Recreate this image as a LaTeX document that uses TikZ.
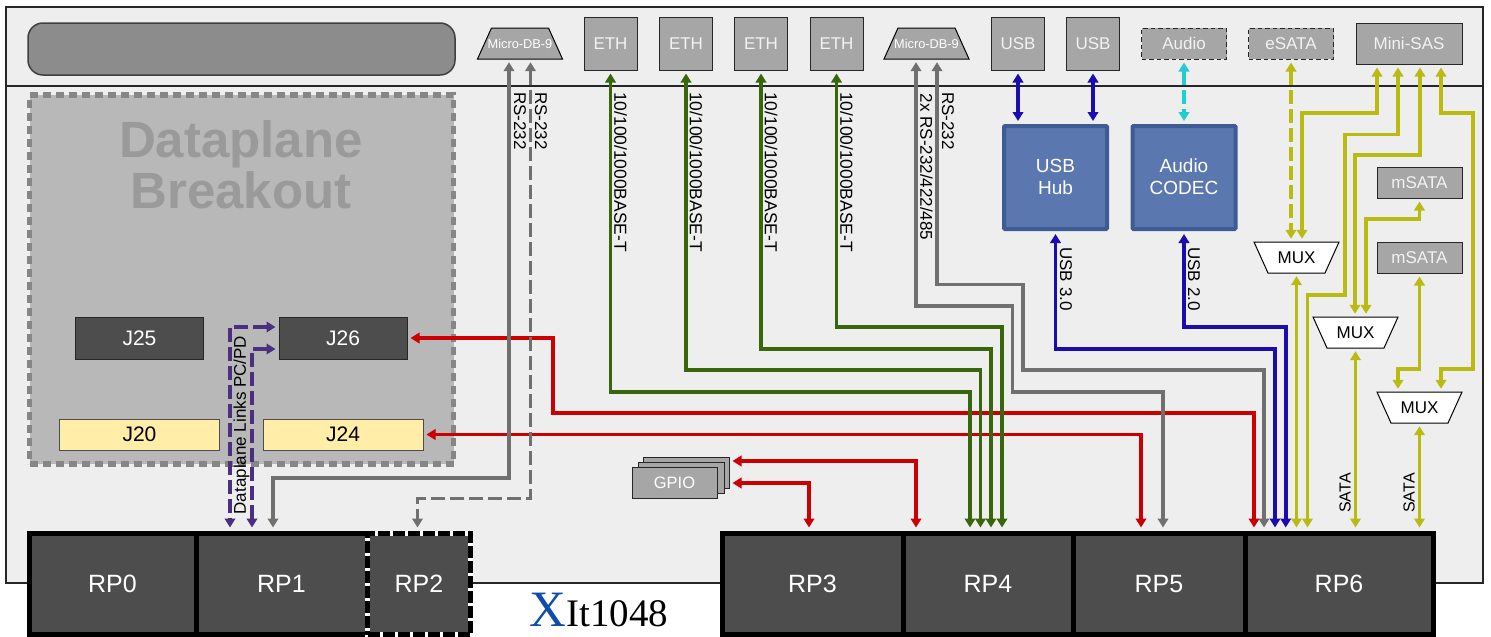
\documentclass[tikz,border=0pt]{standalone}
\usepackage{fontspec}
\setmainfont{Liberation Sans}
\newfontfamily\xfont{Liberation Serif}
\usetikzlibrary{arrows.meta,calc}
\definecolor{panelc}{HTML}{EEEEEE}
\definecolor{slotc}{HTML}{8C8C8C}
\definecolor{breakc}{HTML}{B8B8B8}
\definecolor{breakl}{HTML}{868686}
\definecolor{titlec}{HTML}{9A9A9A}
\definecolor{darkc}{HTML}{4D4D4D}
\definecolor{portc}{HTML}{A6A6A6}
\definecolor{yellowc}{HTML}{FFEDA8}
\definecolor{hubc}{HTML}{5A77B0}
\definecolor{hubl}{HTML}{3D5B94}
\definecolor{cred}{HTML}{CC0000}
\definecolor{cgreen}{HTML}{38660A}
\definecolor{cgray}{HTML}{707070}
\definecolor{cblue}{HTML}{1C0CAF}
\definecolor{cpurple}{HTML}{4B3080}
\definecolor{ccyan}{HTML}{1FCFCF}
\definecolor{colive}{HTML}{BABB12}
\definecolor{xblue}{HTML}{0F4DA8}
\tikzset{
  sized/.style 2 args={minimum width=#1,minimum height=#2,inner sep=0pt},
  fs/.style={font=\fontsize{#1}{#1}\selectfont},
  port/.style={draw=black!85,line width=1pt,fill=portc,text=white!95!black,fs=17},
  dport/.style={port,dash pattern=on 4.5pt off 3pt},
  jack/.style={draw=black!85,line width=1pt,fill=darkc,text=white,fs=21},
  yjack/.style={draw=black!70,line width=1pt,fill=yellowc,text=black,fs=21},
  rpbox/.style={draw=black,line width=5pt,fill=darkc,text=white,fs=25},
  hubbox/.style={draw=hubl,line width=4pt,fill=hubc,text=white,rounded corners=1pt,align=center,font=\fontsize{19}{22}\selectfont},
  trapline/.style={draw=black,line width=1pt,line join=miter},
  conn/.style={line width=3.8pt,shorten <=3pt,shorten >=3pt,{Triangle[width=10.5pt,length=9pt]}-{Triangle[width=10.5pt,length=9pt]}},
  dsh/.style={dash pattern=on 14pt off 5pt},
  vlabel/.style={rotate=-90,text=black,fs=17,inner sep=0pt},
  ulabel/.style={rotate=90,text=black,fs=17,inner sep=0pt}
}
% name, centre, text: connector shape, narrow edge on top
\newcommand{\microbox}[3]{%
  \draw[trapline,fill=portc] ($(#2)+(-42.5,15.5)$) -- ($(#2)+(42.5,15.5)$) -- ($(#2)+(28.5,-15.5)$) -- ($(#2)+(-28.5,-15.5)$) -- cycle;
  \node[sized={85}{31},text=white,fs=12.8] (#1) at (#2) {#3};}
% name, centre, text: multiplexer shape, narrow edge below
\newcommand{\muxshape}[3]{%
  \draw[trapline,fill=white] ($(#2)+(-42.5,-15.5)$) -- ($(#2)+(42.5,-15.5)$) -- ($(#2)+(28.5,15.5)$) -- ($(#2)+(-28.5,15.5)$) -- cycle;
  \node[sized={85}{31},text=black,fs=17] (#1) at (#2) {#3};}
\begin{document}
\begin{tikzpicture}[x=1pt,y=-1pt]
\useasboundingbox (0,0) rectangle (1491,637);
\fill[white] (0,0) rectangle (1491,637);
% panel
\node[draw=black!85,line width=1.6pt,fill=panelc,sized={1477}{576}] (panel) at (744.5,295) {};
\coordinate (divl) at (6,86);
\coordinate (divr) at (1483,86);
\draw[black!85,line width=1.4pt] (divl) -- (divr);
\node[draw=black!75,line width=1.5pt,fill=slotc,rounded corners=15pt,sized={427}{52}] (slot) at (241.5,49) {};
\node[draw=breakl,line width=5.5pt,dash pattern=on 8pt off 5pt,fill=breakc,sized={424}{369}] (breakout) at (241.5,279.5) {};
\node[text=titlec,align=center,inner sep=0pt,font=\fontsize{51}{51}\bfseries\selectfont] (title) at (241,165) {Dataplane\\Breakout};
% jacks
\node[jack,sized={128}{42}] (j25) at (139.5,338) {J25};
\node[jack,sized={128}{42}] (j26) at (343,338) {J26};
\node[yjack,sized={160}{31}] (j20) at (139.5,434.5) {J20};
\node[yjack,sized={160}{31}] (j24) at (343,434.5) {J24};
% front panel
\microbox{m1}{520,43.5}{Micro-DB-9}
\node[port,sized={53}{53}] (eth1) at (610.5,43.5) {ETH};
\node[port,sized={53}{53}] (eth2) at (686,43.5) {ETH};
\node[port,sized={53}{53}] (eth3) at (761,43.5) {ETH};
\node[port,sized={53}{53}] (eth4) at (836.5,43.5) {ETH};
\microbox{m2}{926.5,43.5}{Micro-DB-9}
\node[port,sized={53}{53}] (usb1) at (1018,43.5) {USB};
\node[port,sized={53}{53}] (usb2) at (1093,43.5) {USB};
\node[dport,sized={85}{31}] (audio) at (1184,43.5) {Audio};
\node[dport,sized={85}{31}] (esata) at (1291,43.5) {eSATA};
\node[port,sized={106}{41}] (sas) at (1409,43.5) {Mini-SAS};
\node[port,sized={85}{31}] (msata1) at (1419.5,182.5) {mSATA};
\node[port,sized={85}{31}] (msata2) at (1419.5,257.5) {mSATA};
\node[hubbox,sized={103}{103}] (hub) at (1055.5,177.5) {\raisebox{1.5pt}{USB}\\\raisebox{1.5pt}{Hub}};
\node[hubbox,sized={103}{103}] (codec) at (1184,177.5) {\raisebox{1.5pt}{Audio}\\\raisebox{1.5pt}{CODEC}};
\muxshape{mux1}{1296.5,257.5}{MUX}
\muxshape{mux2}{1355.5,332.5}{MUX}
\muxshape{mux3}{1419.5,407.5}{MUX}
% GPIO
\node[draw=black!85,line width=1pt,fill=portc,sized={86}{31}] (gpioc) at (686,472.5) {};
\node[draw=black!85,line width=1pt,fill=portc,sized={86}{31}] (gpiob) at (681,477.5) {};
\node[draw=black!85,line width=1pt,fill=portc,text=white,fs=16.5,sized={85}{31}] (gpio) at (674.5,482.5) {GPIO};
% RP row
\node[rpbox,sized={167}{101.5}] (rp0) at (112.5,583.75) {RP0};
\node[rpbox,sized={171}{101.5}] (rp1) at (281.5,583.75) {RP1\hspace{3pt}};
\node[rpbox,draw=white,sized={103}{101.5},postaction={draw=black,dash pattern=on 12pt off 3pt}] (rp2) at (419,583.75) {RP2};
\node[rpbox,sized={181}{101.5}] (rp3) at (812.5,583.75) {RP3\hspace{5pt}};
\node[rpbox,sized={170}{101.5}] (rp4) at (988,583.75) {RP4\hspace{12pt}};
\node[rpbox,sized={172}{101.5}] (rp5) at (1159,583.75) {RP5\hspace{12pt}};
\node[rpbox,sized={188}{101.5}] (rp6) at (1339,583.75) {RP6};
\node[anchor=base west,inner sep=0pt] (xlogo) at (529.5,626) {\smash{\xfont{\fontsize{51}{51}\selectfont\color{xblue}X}{\fontsize{39}{39}\selectfont It1048}}};
% red
\draw[conn,cred] (j26.east) -| (553,413) -| ([xshift=-85pt]rp6.north);
\draw[conn,cred] (j24.east) -| ([xshift=-18pt]rp5.north);
\draw[conn,cred] ([yshift=11.5pt]gpioc.east) -| ([xshift=-72pt]rp4.north);
\draw[conn,cred] ([yshift=-10.5pt]gpioc.east) -| ([xshift=-3.5pt]rp3.north);
% green
\draw[conn,cgreen] (eth1.south) |- (610.5,392) -| ([xshift=-18pt]rp4.north);
\draw[conn,cgreen] (eth2.south) |- (686,370) -| ([xshift=-7.5pt]rp4.north);
\draw[conn,cgreen] (eth3.south) |- (761,349) -| ([xshift=3pt]rp4.north);
\draw[conn,cgreen] (eth4.south) |- (836.5,327) -| ([xshift=14pt]rp4.north);
% gray
\draw[conn,cgray] ([xshift=-11pt]m1.south) |- (509,478) -| ([xshift=-8.5pt]rp1.north);
\draw[conn,cgray,dsh] ([xshift=10.5pt]m1.south) |- (530.5,498.5) -| ([xshift=-1.5pt]rp2.north);
\draw[conn,cgray] ([xshift=-10.5pt]m2.south) |- (916,306) -| (1012.5,392) -| ([xshift=4pt]rp5.north);
\draw[conn,cgray] ([xshift=10.5pt]m2.south) |- (937,284.5) -| (1023,370) -| ([xshift=-75pt]rp6.north);
% purple
\draw[conn,cpurple,dsh] ([yshift=11pt]j26.west) -| ([xshift=-51.5pt]rp1.north);
\draw[conn,cpurple,dsh] ([yshift=-11pt]j26.west) -| ([xshift=-29.5pt]rp1.north);
% blue
\draw[conn,cblue] (usb1.south) -- (usb1.south |- hub.north);
\draw[conn,cblue] (usb2.south) -- (usb2.south |- hub.north);
\draw[conn,ccyan,dsh] (audio.south) -- (codec.north);
\draw[conn,cblue] (hub.south) |- (1055.5,349) -| ([xshift=-64pt]rp6.north);
\draw[conn,cblue] (codec.south) |- (1184,327) -| ([xshift=-53.3pt]rp6.north);
% olive
\draw[conn,colive,dsh] (esata.south) -- ([xshift=-5.5pt]mux1.north);
\draw[conn,colive] ([xshift=-32pt]sas.south) |- (1377,113) -| ([xshift=5.5pt]mux1.north);
\draw[conn,colive] ([xshift=-11pt]sas.south) |- (1398,134.5) -| (1345,295) -| ([xshift=-31.5pt]rp6.north);
\draw[conn,colive] ([xshift=11pt]sas.south) |- (1420,155) -| ([xshift=-0.5pt]mux2.north);
\draw[conn,colive] (msata1.south) |- (1419.5,219) -| ([xshift=10.5pt]mux2.north);
\draw[conn,colive] (msata2.south) |- (1419.5,369) -| ([xshift=-21.5pt]mux3.north);
\draw[conn,colive] ([xshift=32pt]sas.south) |- (1441,113) -| (1473,369) -| ([xshift=21.5pt]mux3.north);
\draw[conn,colive] (mux1.south) -- (mux1.south |- rp6.north);
\draw[conn,colive] (mux2.south) -- (mux2.south |- rp6.north);
\draw[conn,colive] (mux3.south) -- (mux3.south |- rp6.north);
% labels
\node[vlabel] (l1) at (520,121) {RS-232};
\node[vlabel] (l2) at (541,121) {RS-232};
\node[vlabel,fs=17.4] (l3) at (620.5,172) {10/100/1000BASE-T};
\node[vlabel,fs=17.4] (l4) at (696,172) {10/100/1000BASE-T};
\node[vlabel,fs=17.4] (l5) at (771,172) {10/100/1000BASE-T};
\node[vlabel,fs=17.4] (l6) at (846.5,172) {10/100/1000BASE-T};
\node[vlabel] (l7) at (926.5,167) {2x RS-232/422/485};
\node[vlabel] (l8) at (948,121) {RS-232};
\node[vlabel] (l9) at (1066,279) {USB 3.0};
\node[vlabel] (l10) at (1194,279) {USB 2.0};
\node[ulabel] (l11) at (241.5,425) {Dataplane Links PC/PD};
\node[ulabel,fs=16] (l12) at (1345,493) {SATA};
\node[ulabel,fs=16] (l13) at (1409,493) {SATA};
\end{tikzpicture}
\end{document}
